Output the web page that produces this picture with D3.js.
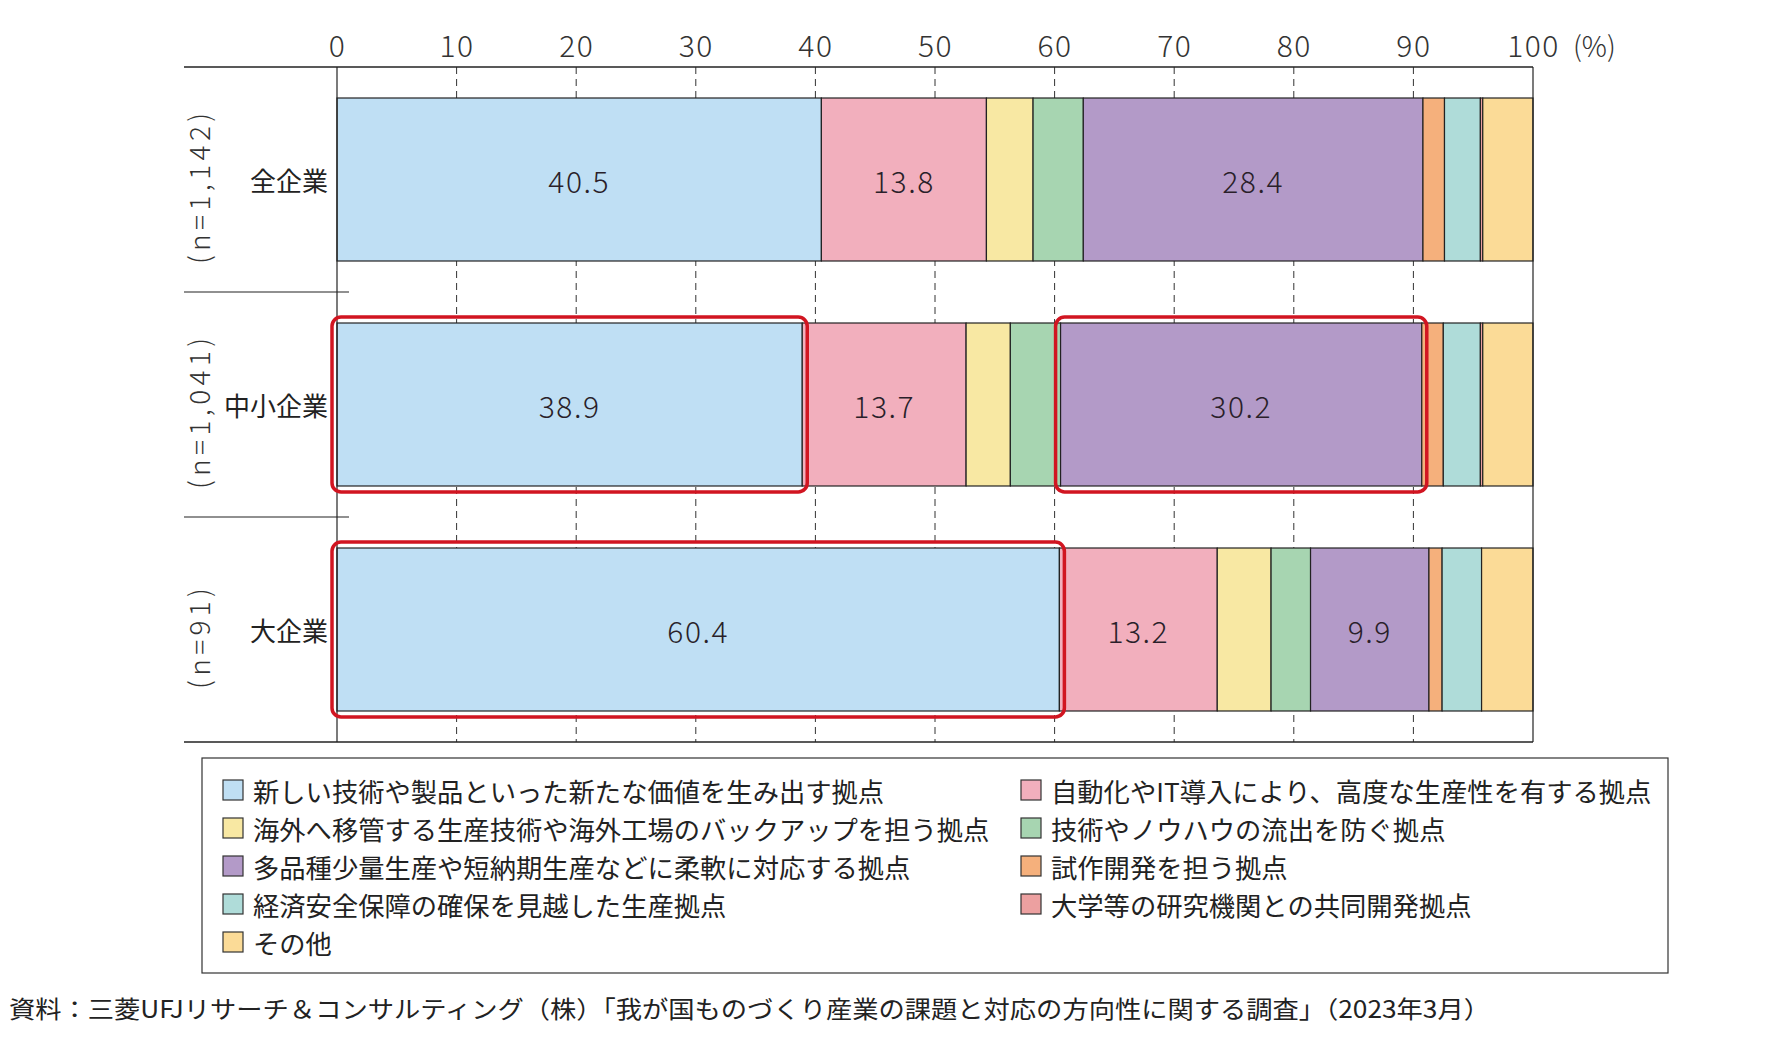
<!DOCTYPE html>
<html><head><meta charset="utf-8">
<script src="https://cdn.jsdelivr.net/npm/d3@7"></script>
<style>
html,body{margin:0;padding:0;background:#fff;}
svg{display:block;font-family:"Noto Sans CJK JP","Noto Sans",sans-serif;}
</style></head>
<body>
<svg id="chart" width="1774" height="1041"></svg>
<script>
const categories = ["全企業", "中小企業", "大企業"];
const sampleLabels = ["(n=1,142)", "(n=1,041)", "(n=91)"];
const seriesNames = [
  "新しい技術や製品といった新たな価値を生み出す拠点",
  "自動化やIT導入により、高度な生産性を有する拠点",
  "海外へ移管する生産技術や海外工場のバックアップを担う拠点",
  "技術やノウハウの流出を防ぐ拠点",
  "多品種少量生産や短納期生産などに柔軟に対応する拠点",
  "試作開発を担う拠点",
  "経済安全保障の確保を見越した生産拠点",
  "大学等の研究機関との共同開発拠点",
  "その他"
];
const seriesColors = ["#bfdff4", "#f2afbd", "#f8e8a3", "#a7d5b1", "#b39ac8", "#f5b07c", "#afdcd9", "#eca0a0", "#fbdb97"];
const valuesAll   = [40.5, 13.8, 3.9, 4.2, 28.4, 1.8, 3.0, 0.2, 4.2];
const valuesSME   = [38.9, 13.7, 3.7, 4.2, 30.2, 1.8, 3.1, 0.2, 4.2];
const valuesLarge = [60.4, 13.2, 4.5, 3.3, 9.9, 1.1, 3.3, 0.0, 4.3];
const labeledSeries = [0, 1, 4];
const tickValues = [0, 10, 20, 30, 40, 50, 60, 70, 80, 90, 100];
const highlights = [ {row: 1, series: 0}, {row: 1, series: 4}, {row: 2, series: 0} ];
const legendOrder = [[0, 1], [2, 3], [4, 5], [6, 7], [8, null]];
const sourceText = "資料：三菱UFJリサーチ＆コンサルティング（株）「我が国ものづくり産業の課題と対応の方向性に関する調査」（2023年3月）";

const rows = [valuesAll, valuesSME, valuesLarge];
const svg = d3.select("#chart");
const x = d3.scaleLinear().domain([0, 100]).range([337, 1533]);
const y = d3.scaleBand().domain(categories).range([67, 742]).paddingInner(0.2756).paddingOuter(0.1378);
const leftEdge = 184;

// dashed gridlines
svg.append("g").selectAll("line").data(tickValues.filter(t => t > 0 && t < 100)).join("line")
  .attr("x1", d => x(d)).attr("x2", d => x(d)).attr("y1", 67).attr("y2", 742)
  .attr("stroke", "#333").attr("stroke-width", 1).attr("stroke-dasharray", "7,5");

// stacked segments
const stacked = rows.map((vals, ri) => {
  let acc = 0;
  return vals.map((v, si) => { const s = {row: ri, series: si, x0: acc, x1: acc + v, v}; acc += v; return s; });
});
const gBars = svg.append("g");
stacked.forEach((segs, ri) => {
  gBars.selectAll(null).data(segs.filter(s => s.v > 0)).join("rect")
    .attr("x", d => x(d.x0)).attr("width", d => x(d.x1) - x(d.x0))
    .attr("y", y(categories[ri])).attr("height", y.bandwidth())
    .attr("fill", d => seriesColors[d.series])
    .attr("stroke", "#222").attr("stroke-width", 1.2);
  gBars.selectAll(null).data(segs.filter(s => labeledSeries.includes(s.series))).join("text")
    .attr("x", d => (x(d.x0) + x(d.x1)) / 2)
    .attr("y", y(categories[ri]) + y.bandwidth() / 2)
    .attr("text-anchor", "middle").attr("dominant-baseline", "central")
    .attr("font-size", 30).attr("letter-spacing", 1.5).attr("font-weight", 300).attr("fill", "#2a1f2a")
    .text(d => d.v.toFixed(1));
});

// frame lines
svg.append("line").attr("x1", leftEdge).attr("x2", x(100)).attr("y1", 67).attr("y2", 67).attr("stroke", "#222").attr("stroke-width", 1.5);
svg.append("line").attr("x1", leftEdge).attr("x2", x(100)).attr("y1", 742).attr("y2", 742).attr("stroke", "#222").attr("stroke-width", 1.5);
svg.append("line").attr("x1", x(0)).attr("x2", x(0)).attr("y1", 67).attr("y2", 742).attr("stroke", "#222").attr("stroke-width", 1.2);
svg.append("line").attr("x1", x(100)).attr("x2", x(100)).attr("y1", 67).attr("y2", 742).attr("stroke", "#222").attr("stroke-width", 1.2);
[1, 2].forEach(i => {
  const yy = y(categories[i]) - (y.step() - y.bandwidth()) / 2;
  svg.append("line").attr("x1", leftEdge).attr("x2", x(0) + 12).attr("y1", yy).attr("y2", yy).attr("stroke", "#222").attr("stroke-width", 1.2);
});

// highlight boxes
svg.append("g").selectAll("rect").data(highlights).join("rect")
  .attr("x", d => x(stacked[d.row][d.series].x0) - 5)
  .attr("width", d => x(stacked[d.row][d.series].x1) - x(stacked[d.row][d.series].x0) + 10)
  .attr("y", d => y(categories[d.row]) - 6)
  .attr("height", y.bandwidth() + 12)
  .attr("rx", 9).attr("fill", "none").attr("stroke", "#d11521").attr("stroke-width", 3.5);

// top axis
const axis = d3.axisTop(x).tickValues(tickValues).tickSize(0).tickPadding(0).tickFormat(d3.format("d"));
const gAxis = svg.append("g").attr("transform", "translate(0,57)").call(axis);
gAxis.select(".domain").remove();
gAxis.selectAll("text").attr("font-size", 30).attr("letter-spacing", 1.5).attr("fill", "#333")
  .attr("font-family", "'Noto Sans CJK JP',sans-serif").attr("font-weight", 300);
svg.append("text").attr("x", x(100) + 40).attr("y", 57).attr("font-size", 28).attr("fill", "#333").attr("font-weight", 300).text("(%)");

// category labels
svg.append("g").selectAll("text").data(categories).join("text")
  .attr("x", 328).attr("y", d => y(d) + y.bandwidth() / 2)
  .attr("text-anchor", "end").attr("dominant-baseline", "central")
  .attr("font-size", 26).attr("fill", "#222").text(d => d);
svg.append("g").selectAll("text").data(sampleLabels).join("text")
  .attr("transform", (d, i) => `translate(198,${y(categories[i]) + y.bandwidth() / 2 + 9}) rotate(-90)`)
  .attr("text-anchor", "middle").attr("dominant-baseline", "central")
  .attr("font-size", 28).attr("fill", "#333").attr("font-weight", 300)
  .attr("textLength", d => d.length * 16.8).attr("lengthAdjust", "spacing")
  .text(d => d);

// legend
svg.append("rect").attr("x", 202).attr("y", 758).attr("width", 1466).attr("height", 215)
  .attr("fill", "none").attr("stroke", "#333").attr("stroke-width", 1.2);
const legendCols = [223, 1021];
const legendRowY = d3.scaleLinear().domain([0, 4]).range([790, 942]);
const gLeg = svg.append("g");
legendOrder.forEach((pair, ri) => {
  pair.forEach((si, ci) => {
    if (si === null) return;
    const lx = legendCols[ci], ly = legendRowY(ri);
    gLeg.append("rect").attr("x", lx).attr("y", ly - 10).attr("width", 20).attr("height", 20)
      .attr("fill", seriesColors[si]).attr("stroke", "#333").attr("stroke-width", 1.2);
    gLeg.append("text").attr("x", lx + 30).attr("y", ly).attr("dominant-baseline", "central")
      .attr("font-size", 26.3).attr("fill", "#222").text(seriesNames[si]);
  });
});

// source
svg.append("text").attr("x", 9).attr("y", 1007).attr("dominant-baseline", "central")
  .attr("font-size", 24).attr("fill", "#222").attr("textLength", 1481).attr("lengthAdjust", "spacingAndGlyphs").text(sourceText);
</script>
</body></html>
